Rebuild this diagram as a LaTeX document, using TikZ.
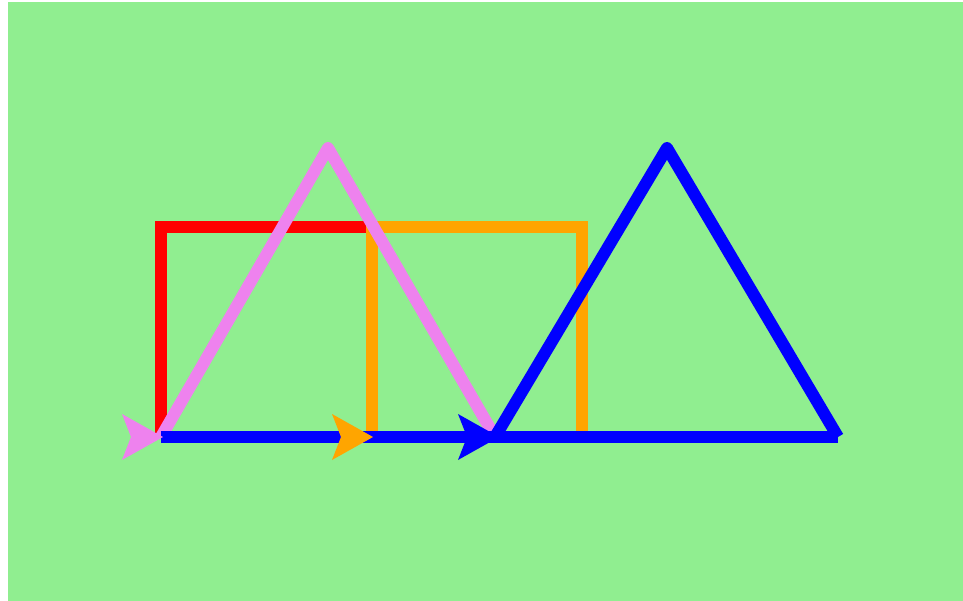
\documentclass[tikz,border=0pt]{standalone}
\definecolor{bggreen}{HTML}{90EE90}
\definecolor{tred}{HTML}{FF0000}
\definecolor{torange}{HTML}{FFA500}
\definecolor{tviolet}{HTML}{EE82EE}
\definecolor{tblue}{HTML}{0000FF}
\begin{document}
\begin{tikzpicture}[x=1pt,y=-1pt,
  pen/.style={line width=12pt,line join=round,line cap=butt},
  sqpen/.style={line width=12pt,line join=miter,line cap=butt}]
\useasboundingbox (0,0) rectangle (963,601);
\fill[white] (0,0) rectangle (963,601);
\fill[bggreen] (8,2) rectangle (963,601);
% named corner points
\coordinate (A) at (161,437);
\coordinate (B) at (161,227);
\coordinate (C) at (372,227);
\coordinate (D) at (582,227);
\coordinate (E) at (582,437);
\coordinate (F) at (372,437);
\coordinate (P) at (328,148);
\coordinate (G) at (495,437);
\coordinate (Q) at (667,148);
\coordinate (H) at (838,437);
% red square part
\draw[sqpen,tred] (A) -- (B) -- (C);
% orange square
\draw[sqpen,torange] (F) -- (C) -- (D) -- (E);
% pink triangle
\draw[pen,tviolet] (A) -- (P) -- (G);
% blue baseline and triangle
\draw[sqpen,tblue] (A) -- (H);
\draw[pen,tblue] (G) -- (Q) -- (H);
% turtle arrowheads
\foreach \t/\c in {163/tviolet,373/torange,499/tblue}{
  \fill[\c] (\t,437) -- (\t-41,414) -- (\t-32,437) -- (\t-41,460) -- cycle;
}
\end{tikzpicture}
\end{document}
